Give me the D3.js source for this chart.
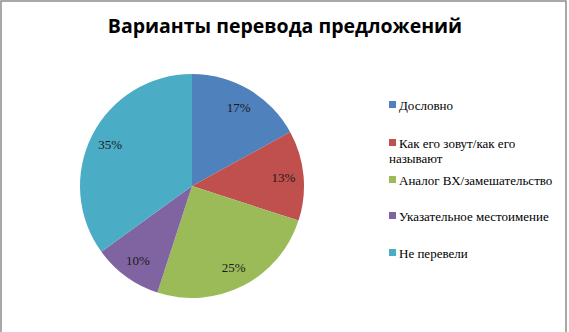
<!DOCTYPE html>
<html>
<head>
<meta charset="utf-8">
<script src="https://cdn.jsdelivr.net/npm/d3@7"></script>
<style>
  body { margin: 0; background: #fff; }
  svg { display: block; }
</style>
</head>
<body>
<svg class="chart"></svg>
<script>
const categories = ["Дословно", "Как его зовут/как его называют", "Аналог ВХ/замешательство", "Указательное местоимение", "Не перевели"];
const legendLines = [["Дословно"], ["Как его зовут/как его", "называют"], ["Аналог ВХ/замешательство"], ["Указательное местоимение"], ["Не перевели"]];
const values = [17, 13, 25, 10, 35];
const colors = ["#4F81BD", "#C0504D", "#9BBB59", "#8064A2", "#4BACC6"];

const serif = "'Liberation Serif', 'Times New Roman', serif";
const width = 569, height = 332;
const svg = d3.select(".chart").attr("width", width).attr("height", height);

// frame
svg.append("path")
    .attr("d", "M1,332V1H566V332")
    .attr("fill", "none")
    .attr("stroke", "#8c8c8c")
    .attr("stroke-width", 1.5);

svg.append("text")
    .attr("x", 285)
    .attr("y", 33)
    .attr("text-anchor", "middle")
    .style("font-family", "Open Sans")
    .style("font-weight", "700")
    .style("font-size", "19.5px")
    .text("Варианты перевода предложений");

const cx = 192, cy = 186, radius = 112;
const pie = d3.pie().sort(null).value(d => d);
const arc = d3.arc().innerRadius(0).outerRadius(radius);
const labelArc = d3.arc().innerRadius(radius * 0.82).outerRadius(radius * 0.82);

const g = svg.append("g").attr("transform", `translate(${cx},${cy})`);
const arcs = pie(values);

g.selectAll("path.slice")
    .data(arcs)
    .enter()
    .append("path")
    .attr("class", "slice")
    .attr("d", arc)
    .attr("fill", (d, i) => colors[i]);

g.selectAll("text.pct")
    .data(arcs)
    .enter()
    .append("text")
    .attr("class", "pct")
    .attr("transform", d => `translate(${labelArc.centroid(d)})`)
    .attr("text-anchor", "middle")
    .attr("dy", "0.35em")
    .style("font-family", serif)
    .style("font-size", "13px")
    .style("fill", "#1a1a1a")
    .text(d => d.data + "%");

// legend
const legendY = [105, 143, 180, 216, 253];
const legend = svg.append("g");
categories.forEach((c, i) => {
    const item = legend.append("g").attr("transform", `translate(389,${legendY[i]})`);
    item.append("rect")
        .attr("x", 0).attr("y", -4)
        .attr("width", 7).attr("height", 7)
        .attr("fill", colors[i]);
    legendLines[i].forEach((line, j) => {
        item.append("text")
            .attr("x", j === 0 ? 10 : 0)
            .attr("y", j * 15)
            .attr("dy", "0.35em")
            .style("font-family", serif)
            .style("font-size", "13px")
            .style("fill", "#000")
            .text(line);
    });
});
</script>
</body>
</html>
